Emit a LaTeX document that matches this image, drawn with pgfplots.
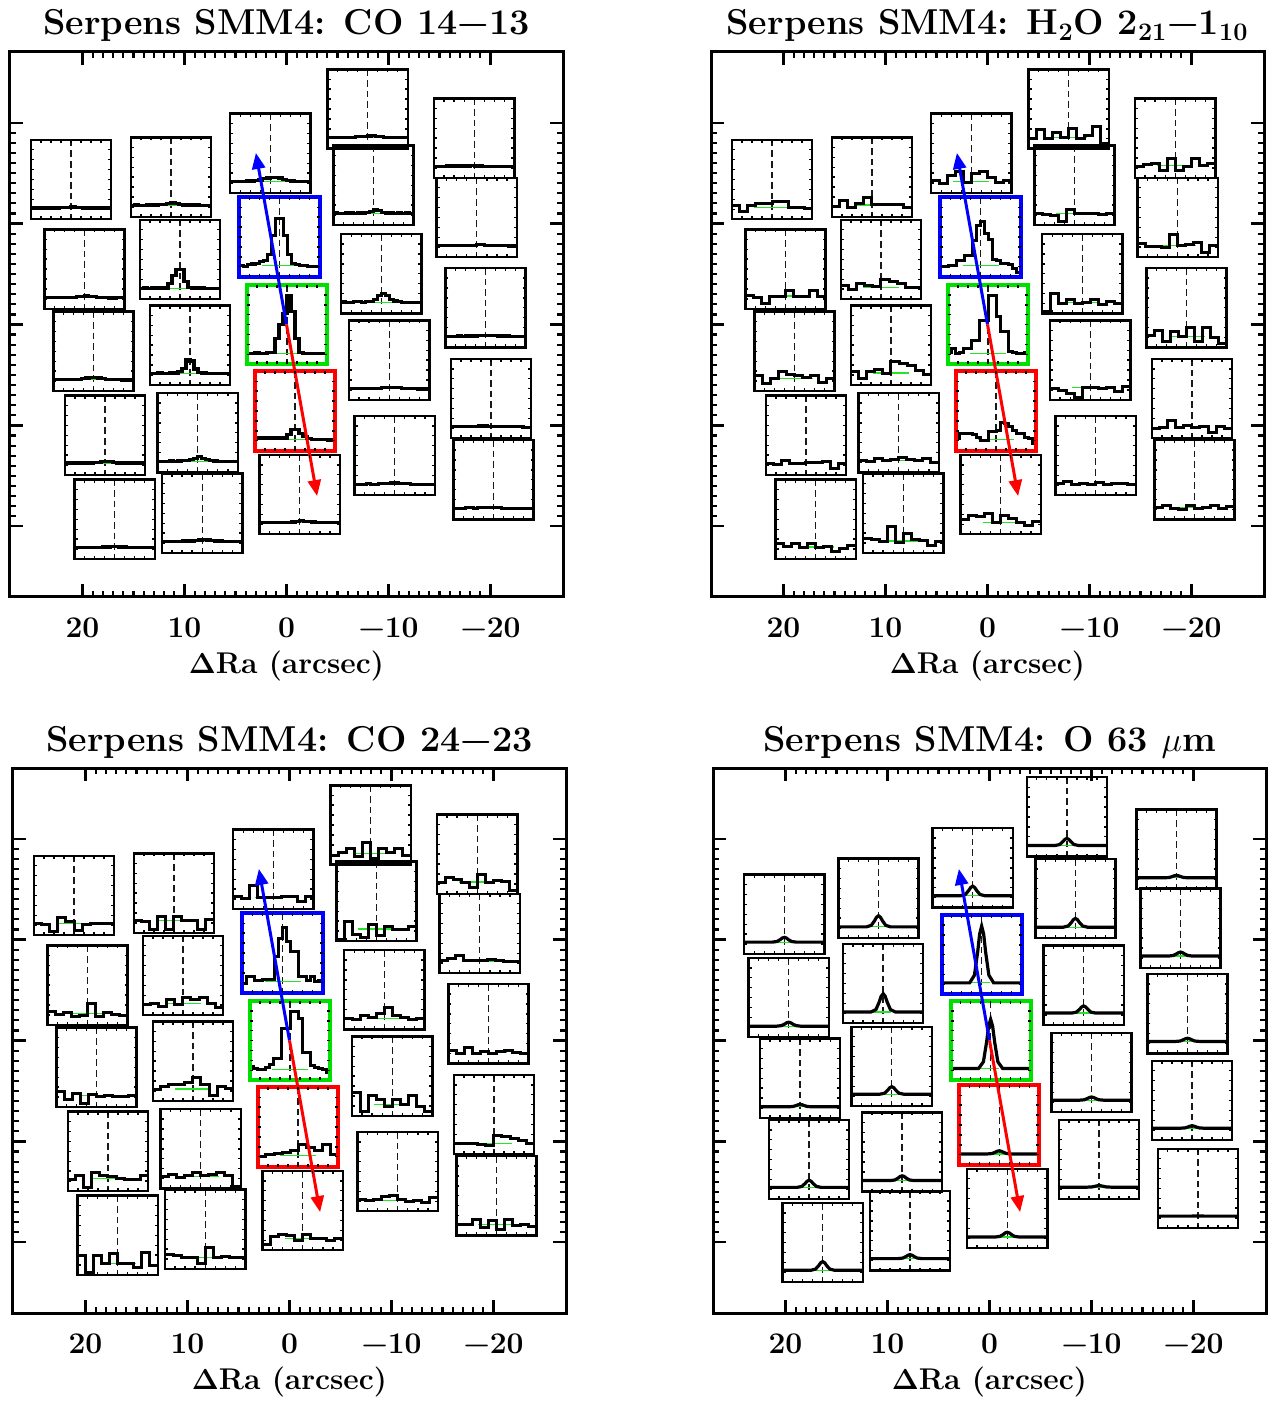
\documentclass[border=0pt]{standalone}
\usepackage[no-math]{fontspec}
\usepackage{pgfplots}
\pgfplotsset{compat=1.18}
\usepackage{pgfplotstable}
\usetikzlibrary{arrows.meta}

\definecolor{idlblue}{rgb}{0,0,1}
\definecolor{idlred}{rgb}{1,0,0}
\definecolor{idlgreen}{rgb}{0,0.88,0}
\definecolor{fitgreen}{rgb}{0.15,0.9,0.15}

\newcommand\hs{3.93}
\newcommand\titlefont{\fontsize{18}{20}\selectfont\bfseries\addfontfeatures{LetterSpace=9}}
\newcommand\labfont{\fontsize{15}{17}\selectfont\bfseries\addfontfeatures{LetterSpace=9}}

\pgfplotstableread{
u v
-1 -1
1 -1
1 1
-1 1
-1 -1
}\boxout
\pgfplotstableread{
u v
-0.75 -0.9625
-0.5 -0.9625
-0.25 -0.9625
0 -0.9625
0.25 -0.9625
0.5 -0.9625
0.75 -0.9625
-0.75 0.9625
-0.5 0.9625
-0.25 0.9625
0 0.9625
0.25 0.9625
0.5 0.9625
0.75 0.9625
}\tickh
\pgfplotstableread{
u v
-0.9625 -0.75
-0.9625 -0.5
-0.9625 -0.25
-0.9625 0
-0.9625 0.25
-0.9625 0.5
-0.9625 0.75
0.9625 -0.75
0.9625 -0.5
0.9625 -0.25
0.9625 0
0.9625 0.25
0.9625 0.5
0.9625 0.75
}\tickv
\pgfplotstableread{
u v
0 1
0 -1
}\dashtab
\pgfplotstableread{
u v
-0.45 0
0.45 0
}\greentab
\pgfplotstableread{
u v
-0.3 0
0.2 0
}\greentaboi

\pgfplotsset{
  nbox/.style={black, line width=1.2pt, line cap=rect},
  bbox/.style={idlblue, line width=2pt, line cap=rect},
  gbox/.style={idlgreen, line width=2pt, line cap=rect},
  rbox/.style={idlred, line width=2pt, line cap=rect},
  panel/.style={
    scale only axis, width=276.5pt, height=272.5pt,
    xmin=-27.1, xmax=27.1, ymin=-27, ymax=27, x dir=reverse,
    xtick={-20,-10,0,10,20}, xticklabels={−20,−10,0,10,20},
    ytick={-20,-10,0,10,20}, yticklabels={},
    minor tick num=9,
    tick align=inside, xtick pos=both, ytick pos=both, xticklabel pos=lower,
    major tick length=6.5pt, minor tick length=3pt,
    every tick/.style={black, line width=1.1pt},
    axis line style={line width=1.5pt},
    xticklabel style={font=\labfont, anchor=base, yshift=-20pt},
    xlabel={$\mathbf{\Delta}$Ra (arcsec)},
    xlabel style={font=\labfont, at={(axis description cs:0.5,0)}, anchor=base, yshift=-38pt},
    title style={font=\titlefont, at={(axis description cs:0.5,1)}, anchor=base, yshift=2.5pt},
  },
}

% histogram spaxel: #1 cx, #2 cy, #3 frame style, #4 channels, #5 fit level, #6 values (channels+1)
\newcommand\spx[6]{%
 \addplot[black!90, line width=0.7pt, dash pattern=on 3.3pt off 2pt] table[x index=0, y index=1, x expr={#1}, y expr={#2+(\thisrow{v})*\hs}] {\dashtab};
 \addplot[fitgreen, line width=0.6pt] table[x index=0, y index=1, x expr={#1-(\thisrow{u})*\hs}, y expr={#2+(2*#5-1)*\hs}] {\greentab};
 \addplot[black, line width=\slw, const plot mark left] table[row sep=\\, x index=0, y index=0, x expr={#1-(2*\coordindex/#4-1)*\hs}, y expr={#2+(2*\thisrow{v}-1)*\hs}] {v\\#6\\};
 \addplot[#3] table[x index=0, y index=1, x expr={#1-(\thisrow{u})*\hs}, y expr={#2+(\thisrow{v})*\hs}] {\boxout};
 \addplot[black, only marks, mark=|, mark size=0.75pt, mark options={line width=0.7pt}] table[x index=0, y index=1, x expr={#1-(\thisrow{u})*\hs}, y expr={#2+(\thisrow{v})*\hs}] {\tickh};
 \addplot[black, only marks, mark=-, mark size=0.75pt, mark options={line width=0.7pt}] table[x index=0, y index=1, x expr={#1-(\thisrow{u})*\hs}, y expr={#2+(\thisrow{v})*\hs}] {\tickv};
}
% O I spaxel: #1 cx, #2 cy, #3 frame, #4 baseline, #5..#8 profile levels
\newcommand\oispx[8]{%
 \addplot[black!90, line width=0.7pt, dash pattern=on 3.3pt off 2pt] table[x index=0, y index=1, x expr={#1}, y expr={#2+(\thisrow{v})*\hs}] {\dashtab};
 \addplot[fitgreen, line width=0.6pt] table[x index=0, y index=1, x expr={#1-(\thisrow{u})*\hs}, y expr={#2+(2*#4-1)*\hs}] {\greentaboi};
 \addplot[black, line width=\slw] table[row sep=\\, x index=0, y index=1, x expr={#1-(\thisrow{u})*\hs}, y expr={#2+(2*\thisrow{v}-1)*\hs}] {u v\\-1 #4\\-0.75 #4\\-0.5 #4\\-0.3 #4\\-0.18 #5\\-0.1 #6\\-0.05 #7\\0 #8\\0.05 #7\\0.1 #6\\0.18 #5\\0.3 #4\\0.5 #4\\0.75 #4\\1 #4\\};
 \addplot[#3] table[x index=0, y index=1, x expr={#1-(\thisrow{u})*\hs}, y expr={#2+(\thisrow{v})*\hs}] {\boxout};
 \addplot[black, only marks, mark=|, mark size=0.75pt, mark options={line width=0.7pt}] table[x index=0, y index=1, x expr={#1-(\thisrow{u})*\hs}, y expr={#2+(\thisrow{v})*\hs}] {\tickh};
 \addplot[black, only marks, mark=-, mark size=0.75pt, mark options={line width=0.7pt}] table[x index=0, y index=1, x expr={#1-(\thisrow{u})*\hs}, y expr={#2+(\thisrow{v})*\hs}] {\tickv};
}
\newcommand\arrows{%
 \addplot[idlblue, line width=1.5pt, -{Triangle[length=8pt, width=6.5pt]}] coordinates {(0,0) (3,17)};
 \addplot[idlred, line width=1.5pt, -{Triangle[length=8pt, width=6.5pt]}] coordinates {(0,0) (-3,-17)};
}

\begin{document}
\begin{tikzpicture}
\path[use as bounding box] (0,0) rectangle (639.5pt,-700.5pt);

% ---------------- CO 14-13 ----------------
\def\slw{1.6pt}
\begin{axis}[panel, at={(5pt,-26pt)}, anchor=north west, title={Serpens SMM4: CO 14−13}]
\spx{21.12}{14.37}{nbox}{20}{0.14}{0.14\\0.14\\0.14\\0.145\\0.14\\0.14\\0.14\\0.145\\0.15\\0.15\\0.155\\0.15\\0.145\\0.14\\0.14\\0.14\\0.135\\0.14\\0.14\\0.14\\0.14}
\spx{19.79}{5.49}{nbox}{20}{0.14}{0.14\\0.145\\0.14\\0.14\\0.14\\0.145\\0.14\\0.145\\0.15\\0.155\\0.16\\0.155\\0.15\\0.145\\0.14\\0.14\\0.135\\0.135\\0.14\\0.14\\0.14}
\spx{18.91}{-2.66}{nbox}{20}{0.15}{0.15\\0.15\\0.145\\0.145\\0.145\\0.15\\0.15\\0.155\\0.165\\0.17\\0.17\\0.165\\0.155\\0.15\\0.15\\0.145\\0.145\\0.14\\0.14\\0.14\\0.14}
\spx{17.79}{-10.98}{nbox}{20}{0.15}{0.15\\0.15\\0.15\\0.145\\0.15\\0.15\\0.15\\0.155\\0.16\\0.165\\0.17\\0.165\\0.155\\0.15\\0.15\\0.15\\0.145\\0.15\\0.15\\0.15\\0.15}
\spx{16.84}{-19.30}{nbox}{20}{0.14}{0.14\\0.14\\0.14\\0.145\\0.14\\0.14\\0.145\\0.15\\0.15\\0.155\\0.155\\0.15\\0.15\\0.145\\0.145\\0.14\\0.14\\0.14\\0.14\\0.14\\0.14}
\spx{11.33}{14.60}{nbox}{20}{0.145}{0.145\\0.15\\0.145\\0.145\\0.15\\0.15\\0.15\\0.155\\0.16\\0.17\\0.175\\0.165\\0.155\\0.15\\0.15\\0.145\\0.15\\0.145\\0.14\\0.14\\0.14}
\spx{10.44}{6.45}{nbox}{20}{0.135}{0.135\\0.14\\0.135\\0.14\\0.14\\0.14\\0.14\\0.2\\0.3\\0.37\\0.37\\0.22\\0.15\\0.14\\0.14\\0.14\\0.135\\0.135\\0.135\\0.135\\0.135}
\spx{9.46}{-2.05}{nbox}{20}{0.145}{0.145\\0.145\\0.15\\0.145\\0.145\\0.15\\0.15\\0.17\\0.21\\0.32\\0.3\\0.2\\0.16\\0.15\\0.145\\0.145\\0.14\\0.14\\0.14\\0.14\\0.14}
\spx{8.70}{-10.73}{nbox}{20}{0.14}{0.14\\0.14\\0.14\\0.145\\0.14\\0.145\\0.15\\0.15\\0.16\\0.18\\0.2\\0.18\\0.16\\0.15\\0.145\\0.14\\0.14\\0.14\\0.14\\0.14\\0.14}
\spx{8.26}{-18.71}{nbox}{20}{0.145}{0.145\\0.145\\0.145\\0.145\\0.145\\0.15\\0.15\\0.15\\0.16\\0.165\\0.17\\0.165\\0.155\\0.15\\0.15\\0.145\\0.145\\0.145\\0.145\\0.145\\0.145}
\spx{1.58}{16.96}{nbox}{20}{0.14}{0.14\\0.14\\0.145\\0.145\\0.15\\0.15\\0.155\\0.165\\0.18\\0.19\\0.2\\0.2\\0.19\\0.175\\0.16\\0.15\\0.145\\0.14\\0.14\\0.14\\0.14}
\spx{0.68}{8.67}{bbox}{20}{0.14}{0.14\\0.13\\0.15\\0.16\\0.17\\0.19\\0.2\\0.28\\0.52\\0.73\\0.73\\0.52\\0.28\\0.17\\0.15\\0.14\\0.14\\0.13\\0.13\\0.13\\0.13}
\spx{-0.05}{-0.02}{gbox}{20}{0.14}{0.14\\0.14\\0.15\\0.14\\0.14\\0.15\\0.15\\0.33\\0.5\\0.64\\0.87\\0.67\\0.33\\0.15\\0.14\\0.14\\0.14\\0.14\\0.14\\0.14\\0.14}
\spx{-0.84}{-8.57}{rbox}{20}{0.14}{0.16\\0.16\\0.155\\0.16\\0.16\\0.155\\0.16\\0.16\\0.2\\0.27\\0.27\\0.22\\0.18\\0.15\\0.145\\0.14\\0.14\\0.14\\0.135\\0.135\\0.135}
\spx{-1.30}{-16.85}{nbox}{20}{0.15}{0.15\\0.15\\0.15\\0.15\\0.145\\0.15\\0.15\\0.15\\0.155\\0.16\\0.17\\0.165\\0.16\\0.155\\0.15\\0.15\\0.15\\0.145\\0.145\\0.145\\0.145}
\spx{-7.96}{21.35}{nbox}{20}{0.14}{0.14\\0.14\\0.145\\0.14\\0.14\\0.145\\0.145\\0.15\\0.15\\0.155\\0.16\\0.165\\0.155\\0.15\\0.145\\0.145\\0.14\\0.14\\0.14\\0.14\\0.14}
\spx{-8.53}{13.79}{nbox}{20}{0.145}{0.15\\0.145\\0.145\\0.15\\0.15\\0.145\\0.15\\0.15\\0.155\\0.165\\0.19\\0.18\\0.16\\0.15\\0.15\\0.145\\0.15\\0.145\\0.15\\0.145\\0.145}
\spx{-9.30}{5.03}{nbox}{20}{0.14}{0.145\\0.14\\0.14\\0.145\\0.145\\0.14\\0.145\\0.15\\0.18\\0.23\\0.25\\0.23\\0.18\\0.155\\0.145\\0.14\\0.14\\0.14\\0.14\\0.14\\0.14}
\spx{-10.07}{-3.53}{nbox}{20}{0.14}{0.14\\0.14\\0.14\\0.14\\0.14\\0.14\\0.145\\0.145\\0.15\\0.15\\0.155\\0.155\\0.15\\0.145\\0.14\\0.14\\0.14\\0.135\\0.135\\0.135\\0.135}
\spx{-10.61}{-12.99}{nbox}{20}{0.14}{0.14\\0.14\\0.14\\0.145\\0.14\\0.14\\0.145\\0.15\\0.15\\0.155\\0.155\\0.15\\0.15\\0.145\\0.14\\0.14\\0.14\\0.135\\0.135\\0.135\\0.135}
\spx{-18.40}{18.46}{nbox}{20}{0.145}{0.145\\0.145\\0.145\\0.15\\0.15\\0.15\\0.15\\0.15\\0.15\\0.155\\0.15\\0.15\\0.145\\0.145\\0.145\\0.145\\0.14\\0.14\\0.14\\0.14\\0.14}
\spx{-18.65}{10.61}{nbox}{20}{0.145}{0.145\\0.145\\0.15\\0.145\\0.15\\0.15\\0.15\\0.15\\0.15\\0.15\\0.155\\0.155\\0.15\\0.15\\0.15\\0.145\\0.145\\0.145\\0.14\\0.14\\0.14}
\spx{-19.51}{1.66}{nbox}{20}{0.14}{0.14\\0.14\\0.14\\0.145\\0.14\\0.145\\0.145\\0.145\\0.15\\0.15\\0.15\\0.15\\0.15\\0.145\\0.145\\0.145\\0.14\\0.14\\0.14\\0.14\\0.14}
\spx{-20.04}{-7.34}{nbox}{20}{0.145}{0.145\\0.145\\0.145\\0.15\\0.15\\0.15\\0.15\\0.155\\0.155\\0.15\\0.15\\0.145\\0.145\\0.145\\0.145\\0.145\\0.145\\0.145\\0.14\\0.14\\0.14}
\spx{-20.28}{-15.38}{nbox}{20}{0.14}{0.14\\0.14\\0.14\\0.145\\0.145\\0.14\\0.145\\0.15\\0.15\\0.15\\0.145\\0.145\\0.14\\0.14\\0.14\\0.14\\0.14\\0.14\\0.135\\0.135\\0.135}
\arrows
\end{axis}

% ---------------- H2O ----------------
\def\slw{1.5pt}
\begin{axis}[panel, at={(355.5pt,-26pt)}, anchor=north west, title={Serpens SMM4: H\textsubscript{2}O 2\textsubscript{21}−1\textsubscript{10}}]
\spx{21.12}{14.37}{nbox}{10}{0.15}{0.17\\0.09\\0.17\\0.2\\0.2\\0.22\\0.22\\0.15\\0.15\\0.14\\0.14}
\spx{19.79}{5.49}{nbox}{10}{0.16}{0.17\\0.14\\0.07\\0.16\\0.15\\0.23\\0.15\\0.15\\0.23\\0.16\\0.16}
\spx{18.91}{-2.66}{nbox}{10}{0.16}{0.2\\0.09\\0.16\\0.24\\0.21\\0.19\\0.17\\0.19\\0.11\\0.16\\0.16}
\spx{17.79}{-10.98}{nbox}{10}{0.15}{0.14\\0.13\\0.18\\0.15\\0.15\\0.16\\0.16\\0.17\\0.08\\0.15\\0.15}
\spx{16.84}{-19.30}{nbox}{10}{0.15}{0.2\\0.16\\0.2\\0.15\\0.2\\0.15\\0.16\\0.1\\0.13\\0.17\\0.17}
\spx{11.33}{14.60}{nbox}{10}{0.15}{0.13\\0.2\\0.12\\0.17\\0.24\\0.15\\0.16\\0.16\\0.15\\0.12\\0.12}
\spx{10.44}{6.45}{nbox}{10}{0.15}{0.17\\0.12\\0.2\\0.17\\0.16\\0.25\\0.22\\0.19\\0.15\\0.14\\0.14}
\spx{9.46}{-2.05}{nbox}{10}{0.15}{0.17\\0.08\\0.17\\0.19\\0.14\\0.3\\0.27\\0.24\\0.18\\0.13\\0.13}
\spx{8.70}{-10.73}{nbox}{10}{0.15}{0.15\\0.14\\0.18\\0.15\\0.16\\0.19\\0.16\\0.15\\0.17\\0.12\\0.12}
\spx{8.26}{-18.71}{nbox}{10}{0.15}{0.18\\0.17\\0.15\\0.33\\0.13\\0.25\\0.17\\0.16\\0.1\\0.14\\0.14}
\spx{1.58}{16.96}{nbox}{10}{0.14}{0.16\\0.12\\0.22\\0.27\\0.13\\0.24\\0.27\\0.19\\0.13\\0.16\\0.16}
\spx{0.68}{8.67}{bbox}{20}{0.14}{0.13\\0.13\\0.14\\0.14\\0.2\\0.2\\0.27\\0.27\\0.45\\0.65\\0.69\\0.55\\0.47\\0.22\\0.2\\0.17\\0.17\\0.15\\0.1\\0.05\\0.05}
\spx{-0.05}{-0.02}{gbox}{20}{0.14}{0.15\\0.2\\0.14\\0.15\\0.2\\0.2\\0.3\\0.3\\0.55\\0.55\\0.87\\0.87\\0.6\\0.42\\0.42\\0.16\\0.15\\0.14\\0.14\\0.15\\0.15}
\spx{-0.84}{-8.57}{rbox}{20}{0.14}{0.15\\0.21\\0.22\\0.22\\0.2\\0.17\\0.13\\0.13\\0.24\\0.24\\0.26\\0.36\\0.34\\0.3\\0.26\\0.22\\0.22\\0.17\\0.15\\0.09\\0.09}
\spx{-1.30}{-16.85}{nbox}{10}{0.15}{0.18\\0.23\\0.22\\0.26\\0.15\\0.23\\0.2\\0.15\\0.11\\0.16\\0.16}
\spx{-7.96}{21.35}{nbox}{10}{0.14}{0.13\\0.24\\0.13\\0.2\\0.14\\0.25\\0.13\\0.16\\0.28\\0.07\\0.07}
\spx{-8.53}{13.79}{nbox}{10}{0.14}{0.15\\0.13\\0.12\\0.05\\0.2\\0.14\\0.14\\0.14\\0.13\\0.15\\0.15}
\spx{-9.30}{5.03}{nbox}{10}{0.14}{0.02\\0.25\\0.13\\0.17\\0.13\\0.14\\0.17\\0.11\\0.15\\0.12\\0.12}
\spx{-10.07}{-3.53}{nbox}{10}{0.15}{0.14\\0.12\\0.08\\0.03\\0.15\\0.15\\0.14\\0.16\\0.1\\0.17\\0.17}
\spx{-10.61}{-12.99}{nbox}{10}{0.15}{0.15\\0.17\\0.13\\0.15\\0.13\\0.16\\0.13\\0.15\\0.15\\0.13\\0.13}
\spx{-18.40}{18.46}{nbox}{10}{0.16}{0.14\\0.17\\0.18\\0.09\\0.24\\0.09\\0.14\\0.24\\0.16\\0.18\\0.18}
\spx{-18.65}{10.61}{nbox}{10}{0.15}{0.17\\0.13\\0.13\\0.12\\0.28\\0.14\\0.16\\0.19\\0.06\\0.15\\0.15}
\spx{-19.51}{1.66}{nbox}{10}{0.14}{0.15\\0.21\\0.08\\0.2\\0.14\\0.25\\0.08\\0.25\\0.12\\0.05\\0.05}
\spx{-20.04}{-7.34}{nbox}{10}{0.15}{0.12\\0.13\\0.22\\0.13\\0.16\\0.13\\0.15\\0.07\\0.15\\0.12\\0.12}
\spx{-20.28}{-15.38}{nbox}{10}{0.15}{0.15\\0.17\\0.14\\0.13\\0.17\\0.14\\0.15\\0.17\\0.14\\0.16\\0.16}
\arrows
\end{axis}

% ---------------- CO 24-23 ----------------
\def\slw{1.5pt}
\begin{axis}[panel, at={(6.5pt,-384pt)}, anchor=north west, title={Serpens SMM4: CO 24−23}]
\spx{21.12}{14.37}{nbox}{10}{0.15}{0.15\\0.13\\0.05\\0.22\\0.17\\0.06\\0.14\\0.15\\0.15\\0.15\\0.15}
\spx{19.79}{5.49}{nbox}{10}{0.14}{0.17\\0.13\\0.15\\0.1\\0.12\\0.27\\0.1\\0.15\\0.13\\0.12\\0.12}
\spx{18.91}{-2.66}{nbox}{10}{0.15}{0.2\\0.1\\0.17\\0.05\\0.16\\0.13\\0.15\\0.13\\0.13\\0.15\\0.15}
\spx{17.79}{-10.98}{nbox}{10}{0.16}{0.15\\0.19\\0.04\\0.23\\0.2\\0.18\\0.16\\0.15\\0.14\\0.19\\0.19}
\spx{16.84}{-19.30}{nbox}{10}{0.14}{0.25\\0.03\\0.25\\0.15\\0.27\\0.15\\0.14\\0.1\\0.28\\0.12\\0.12}
\spx{11.33}{14.60}{nbox}{10}{0.16}{0.16\\0.14\\0.04\\0.2\\0.04\\0.2\\0.15\\0.16\\0.04\\0.17\\0.17}
\spx{10.44}{6.45}{nbox}{10}{0.15}{0.13\\0.15\\0.11\\0.2\\0.13\\0.22\\0.2\\0.22\\0.14\\0.09\\0.09}
\spx{9.46}{-2.05}{nbox}{10}{0.15}{0.14\\0.18\\0.2\\0.21\\0.23\\0.3\\0.2\\0.07\\0.18\\0.15\\0.15}
\spx{8.70}{-10.73}{nbox}{10}{0.15}{0.15\\0.18\\0.14\\0.16\\0.2\\0.16\\0.18\\0.2\\0.16\\0.03\\0.03}
\spx{8.26}{-18.71}{nbox}{10}{0.15}{0.18\\0.17\\0.14\\0.15\\0.07\\0.27\\0.15\\0.16\\0.15\\0.15\\0.15}
\spx{1.58}{16.96}{nbox}{10}{0.15}{0.16\\0.13\\0.3\\0.15\\0.14\\0.15\\0.16\\0.16\\0.09\\0.16\\0.16}
\spx{0.68}{8.67}{bbox}{20}{0.14}{0.11\\0.2\\0.2\\0.15\\0.15\\0.17\\0.17\\0.17\\0.45\\0.68\\0.82\\0.65\\0.52\\0.52\\0.2\\0.2\\0.15\\0.2\\0.14\\0.15\\0.15}
\spx{-0.05}{-0.02}{gbox}{20}{0.14}{0.17\\0.15\\0.14\\0.14\\0.16\\0.2\\0.28\\0.28\\0.65\\0.65\\0.87\\0.87\\0.78\\0.35\\0.35\\0.19\\0.16\\0.15\\0.14\\0.1\\0.1}
\spx{-0.84}{-8.57}{rbox}{10}{0.14}{0.13\\0.15\\0.16\\0.18\\0.2\\0.28\\0.24\\0.21\\0.28\\0.15\\0.15}
\spx{-1.30}{-16.85}{nbox}{10}{0.15}{0.07\\0.17\\0.2\\0.18\\0.12\\0.2\\0.15\\0.15\\0.12\\0.15\\0.15}
\spx{-7.96}{21.35}{nbox}{10}{0.14}{0.12\\0.15\\0.2\\0.1\\0.28\\0.08\\0.2\\0.16\\0.2\\0.12\\0.12}
\spx{-8.53}{13.79}{nbox}{10}{0.15}{0.02\\0.24\\0.08\\0.05\\0.21\\0.07\\0.18\\0.14\\0.14\\0.18\\0.18}
\spx{-9.30}{5.03}{nbox}{10}{0.14}{0.14\\0.12\\0.17\\0.15\\0.2\\0.28\\0.18\\0.15\\0.13\\0.14\\0.14}
\spx{-10.07}{-3.53}{nbox}{10}{0.14}{0.3\\0.06\\0.25\\0.21\\0.12\\0.2\\0.14\\0.25\\0.12\\0.05\\0.05}
\spx{-10.61}{-12.99}{nbox}{10}{0.14}{0.15\\0.13\\0.15\\0.18\\0.2\\0.15\\0.12\\0.14\\0.11\\0.17\\0.17}
\spx{-18.40}{18.46}{nbox}{10}{0.15}{0.14\\0.2\\0.18\\0.14\\0.08\\0.24\\0.14\\0.17\\0.16\\0.04\\0.04}
\spx{-18.65}{10.61}{nbox}{10}{0.15}{0.16\\0.19\\0.22\\0.16\\0.16\\0.16\\0.17\\0.16\\0.15\\0.14\\0.14}
\spx{-19.51}{1.66}{nbox}{10}{0.14}{0.16\\0.12\\0.2\\0.12\\0.15\\0.13\\0.15\\0.16\\0.14\\0.13\\0.13}
\spx{-20.04}{-7.34}{nbox}{10}{0.14}{0.14\\0.13\\0.14\\0.12\\0.11\\0.24\\0.22\\0.2\\0.17\\0.13\\0.13}
\spx{-20.28}{-15.38}{nbox}{10}{0.14}{0.14\\0.14\\0.2\\0.1\\0.19\\0.08\\0.2\\0.12\\0.14\\0.11\\0.11}
\arrows
\end{axis}

% ---------------- O I 63 ----------------
\def\slw{1.6pt}
\begin{axis}[panel, at={(356.5pt,-384pt)}, anchor=north west, title={Serpens SMM4: O 63 $\mu$m}]
\oispx{20.11}{12.50}{nbox}{0.15}{0.158}{0.182}{0.202}{0.21}
\oispx{19.68}{4.25}{nbox}{0.14}{0.147}{0.167}{0.183}{0.19}
\oispx{18.56}{-3.74}{nbox}{0.14}{0.144}{0.156}{0.166}{0.17}
\oispx{17.68}{-11.80}{nbox}{0.15}{0.162}{0.199}{0.227}{0.24}
\oispx{16.35}{-20.02}{nbox}{0.15}{0.165}{0.209}{0.245}{0.26}
\oispx{10.88}{14.09}{nbox}{0.14}{0.159}{0.216}{0.26}{0.28}
\oispx{10.42}{5.66}{nbox}{0.14}{0.171}{0.264}{0.338}{0.37}
\oispx{9.58}{-2.57}{nbox}{0.15}{0.163}{0.201}{0.232}{0.245}
\oispx{8.56}{-11.05}{nbox}{0.14}{0.148}{0.172}{0.192}{0.2}
\oispx{7.79}{-18.86}{nbox}{0.15}{0.157}{0.177}{0.193}{0.2}
\oispx{1.65}{17.10}{nbox}{0.15}{0.166}{0.215}{0.253}{0.27}
\oispx{0.77}{8.50}{bbox}{0.145}{0.242}{0.531}{0.76}{0.86}
\oispx{-0.11}{-0.02}{gbox}{0.15}{0.234}{0.485}{0.683}{0.77}
\oispx{-0.96}{-8.37}{rbox}{0.135}{0.14}{0.157}{0.169}{0.175}
\oispx{-1.74}{-16.64}{nbox}{0.14}{0.148}{0.172}{0.192}{0.2}
\oispx{-7.58}{22.15}{nbox}{0.14}{0.152}{0.189}{0.217}{0.23}
\oispx{-8.42}{14.06}{nbox}{0.14}{0.155}{0.199}{0.235}{0.25}
\oispx{-9.23}{5.47}{nbox}{0.15}{0.162}{0.199}{0.227}{0.24}
\oispx{-10.00}{-3.16}{nbox}{0.15}{0.155}{0.172}{0.184}{0.19}
\oispx{-10.74}{-11.78}{nbox}{0.15}{0.153}{0.161}{0.167}{0.17}
\oispx{-18.32}{18.95}{nbox}{0.14}{0.144}{0.156}{0.166}{0.17}
\oispx{-18.72}{11.12}{nbox}{0.15}{0.157}{0.177}{0.193}{0.2}
\oispx{-19.40}{2.66}{nbox}{0.15}{0.155}{0.172}{0.184}{0.19}
\oispx{-19.86}{-5.94}{nbox}{0.15}{0.154}{0.166}{0.176}{0.18}
\oispx{-20.42}{-14.65}{nbox}{0.15}{0.15}{0.151}{0.152}{0.153}
\arrows
\end{axis}
\end{tikzpicture}
\end{document}
